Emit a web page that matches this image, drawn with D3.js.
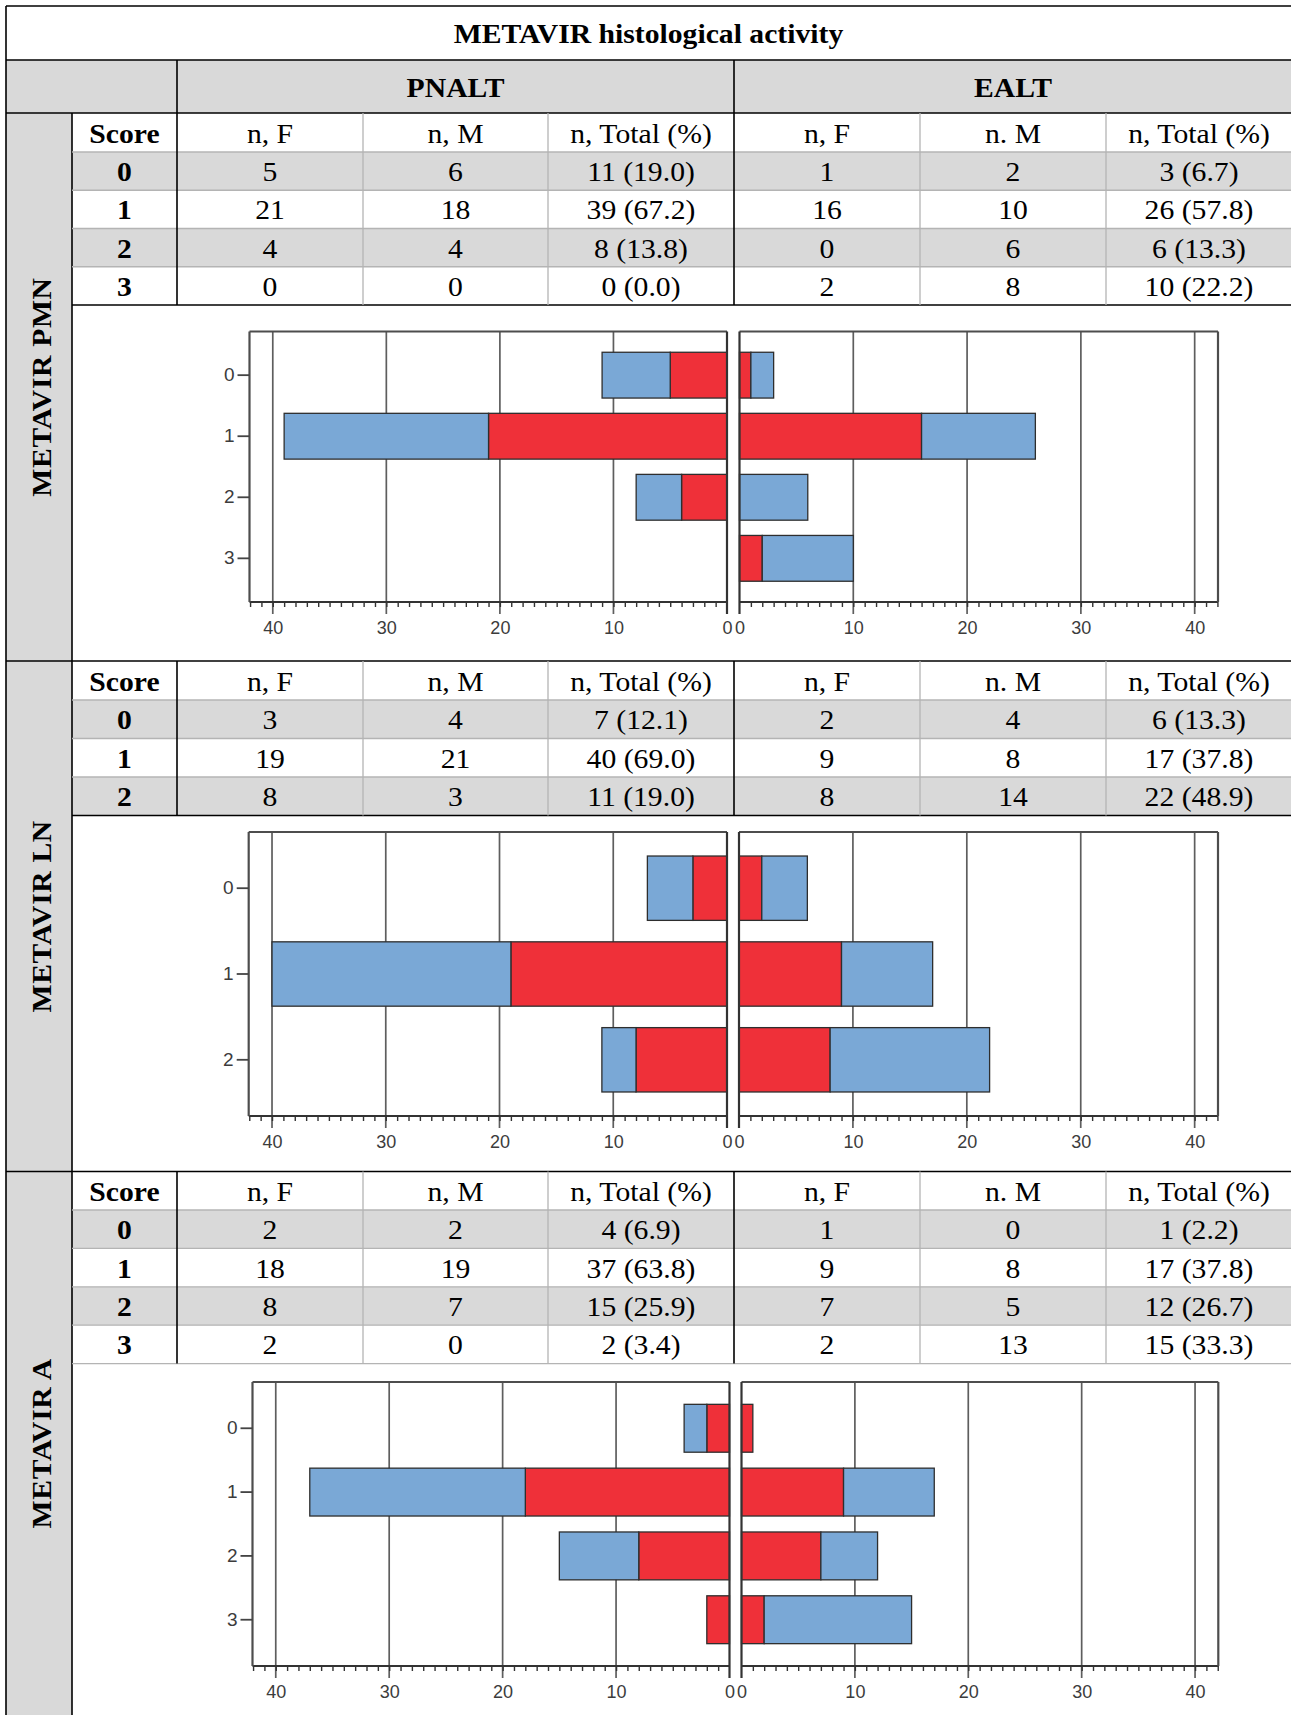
<!DOCTYPE html>
<html>
<head>
<meta charset="utf-8">
<script src="https://d3js.org/d3.v7.min.js"></script>
<style>
  body { margin: 0; background: #fff; }
  svg { display: block; }
</style>
</head>
<body>
<svg id="metavir_chart"></svg>
<script>
// ---- data ----
const title = "METAVIR histological activity";
const groups = ["PNALT", "EALT"];
const colHeaders = ["Score", "n, F", "n, M", "n, Total (%)", "n, F", "n. M", "n, Total (%)"];
const sectionNames = ["METAVIR PMN", "METAVIR LN", "METAVIR A"];

const pmnScores = ["0", "1", "2", "3"];
const pmnPnaltF = [5, 21, 4, 0];
const pmnPnaltM = [6, 18, 4, 0];
const pmnPnaltTotal = ["11 (19.0)", "39 (67.2)", "8 (13.8)", "0 (0.0)"];
const pmnEaltF = [1, 16, 0, 2];
const pmnEaltM = [2, 10, 6, 8];
const pmnEaltTotal = ["3 (6.7)", "26 (57.8)", "6 (13.3)", "10 (22.2)"];

const lnScores = ["0", "1", "2"];
const lnPnaltF = [3, 19, 8];
const lnPnaltM = [4, 21, 3];
const lnPnaltTotal = ["7 (12.1)", "40 (69.0)", "11 (19.0)"];
const lnEaltF = [2, 9, 8];
const lnEaltM = [4, 8, 14];
const lnEaltTotal = ["6 (13.3)", "17 (37.8)", "22 (48.9)"];

const aScores = ["0", "1", "2", "3"];
const aPnaltF = [2, 18, 8, 2];
const aPnaltM = [2, 19, 7, 0];
const aPnaltTotal = ["4 (6.9)", "37 (63.8)", "15 (25.9)", "2 (3.4)"];
const aEaltF = [1, 9, 7, 2];
const aEaltM = [0, 8, 5, 13];
const aEaltTotal = ["1 (2.2)", "17 (37.8)", "12 (26.7)", "15 (33.3)"];

const axisTicks = [0, 10, 20, 30, 40];
const axisMax = 42.05;

// ---- layout ----
const W = 1291, H = 1715;
const tblLeft = 6, tblTop = 6, labelColR = 72;
const colEdges = [72, 177, 363, 548, 734, 920, 1106, 1292];
const titleBottom = 60, groupBottom = 113;
const grey = "#d9d9d9", thinGrey = "#b4b4b4";
const red = "#ef3039", blue = "#7aa8d6";
const serif = "'Liberation Serif', 'Times New Roman', serif";
const sans = "'Liberation Sans', Arial, sans-serif";
const stretch = 1.06; // table font in the picture is slightly wide

const sections = [
  { name: sectionNames[0], scores: pmnScores, pf: pmnPnaltF, pm: pmnPnaltM, pt: pmnPnaltTotal,
    ef: pmnEaltF, em: pmnEaltM, et: pmnEaltTotal,
    y0: 113, y1: 661, headBottom: 152, rowH: 38.25, chartTop: 331.5, axisY: 602,
    frameL: 249.5, zeroL: 727, zeroR: 739.5, frameR: 1218, po: 0.34, lastBlack: true },
  { name: sectionNames[1], scores: lnScores, pf: lnPnaltF, pm: lnPnaltM, pt: lnPnaltTotal,
    ef: lnEaltF, em: lnEaltM, et: lnEaltTotal,
    y0: 661, y1: 1171.5, headBottom: 700, rowH: 38.5, chartTop: 832, axisY: 1116,
    frameL: 248.7, zeroL: 727, zeroR: 739, frameR: 1218, po: 0.28, lastBlack: true },
  { name: sectionNames[2], scores: aScores, pf: aPnaltF, pm: aPnaltM, pt: aPnaltTotal,
    ef: aEaltF, em: aEaltM, et: aEaltTotal,
    y0: 1171.5, y1: 1715, headBottom: 1210, rowH: 38.4, chartTop: 1382, axisY: 1666,
    frameL: 252.5, zeroL: 729.5, zeroR: 741.5, frameR: 1218.3, po: 0.35, lastBlack: false }
];

const svg = d3.select("#metavir_chart").attr("width", W).attr("height", H);
const bg = svg.append("g"), lines = svg.append("g"), texts = svg.append("g"), charts = svg.append("g");

function line(x1, y1, x2, y2, color, w) {
  lines.append("line").attr("x1", x1).attr("y1", y1).attr("x2", x2).attr("y2", y2)
    .attr("stroke", color).attr("stroke-width", w);
}
function cellText(x, y, str, bold) {
  texts.append("text").attr("transform", `translate(${x},${y}) scale(${stretch},1)`)
    .attr("text-anchor", "middle")
    .style("font-family", serif).style("font-size", "28px")
    .style("font-weight", bold ? "bold" : "normal").attr("fill", "#000").text(str);
}

// backgrounds
bg.append("rect").attr("x", tblLeft).attr("y", titleBottom).attr("width", W - tblLeft).attr("height", groupBottom - titleBottom).attr("fill", grey);
bg.append("rect").attr("x", tblLeft).attr("y", groupBottom).attr("width", labelColR - tblLeft).attr("height", H - groupBottom).attr("fill", grey);

// title + group header
cellText((tblLeft + W) / 2, 43, title, true);
groups.forEach((gname, i) => {
  cellText((colEdges[1 + i * 3] + colEdges[4 + i * 3]) / 2, 97, gname, true);
});
line(tblLeft, tblTop, W, tblTop, "#000", 1.6);
line(tblLeft, tblTop, tblLeft, H, "#000", 1.6);
line(tblLeft, titleBottom, W, titleBottom, "#000", 1.6);
line(colEdges[1], titleBottom, colEdges[1], groupBottom, "#000", 1.6);
line(colEdges[4], titleBottom, colEdges[4], groupBottom, "#000", 1.6);
line(labelColR, groupBottom, labelColR, H, "#000", 1.6);

const colMid = d3.range(7).map(i => (colEdges[i] + colEdges[i + 1]) / 2);

sections.forEach(sec => {
  const n = sec.scores.length;
  const rowTop = i => sec.headBottom + i * sec.rowH;
  const tableBottom = rowTop(n);

  // grey striped rows
  sec.scores.forEach((s, i) => {
    if (i % 2 === 0) {
      bg.append("rect").attr("x", labelColR).attr("y", rowTop(i)).attr("width", W - labelColR)
        .attr("height", sec.rowH).attr("fill", grey);
    }
  });

  // rotated section label
  texts.append("text")
    .attr("transform", `translate(51,${(sec.y0 + sec.y1) / 2}) rotate(-90) scale(${stretch},1)`)
    .attr("text-anchor", "middle")
    .style("font-family", serif).style("font-size", "28px").style("font-weight", "bold")
    .style("letter-spacing", "0.6px").text(sec.name);

  // header row
  colHeaders.forEach((h, j) => cellText(colMid[j], sec.headBottom - 9, h, j === 0));

  // data rows
  sec.scores.forEach((s, i) => {
    const by = rowTop(i) + sec.rowH / 2 + 10;
    const vals = [s, sec.pf[i], sec.pm[i], sec.pt[i], sec.ef[i], sec.em[i], sec.et[i]];
    vals.forEach((v, j) => cellText(colMid[j], by, v, j === 0));
  });

  // table lines
  line(tblLeft, sec.y0, W, sec.y0, "#000", 1.6);
  d3.range(n).forEach(i => line(labelColR, rowTop(i), W, rowTop(i), thinGrey, 1.3));
  line(labelColR, tableBottom, W, tableBottom, sec.lastBlack ? "#000" : thinGrey, sec.lastBlack ? 1.6 : 1.3);
  [2, 3, 5, 6].forEach(k => line(colEdges[k], sec.y0, colEdges[k], tableBottom, thinGrey, 1.3));
  [1, 4].forEach(k => line(colEdges[k], sec.y0, colEdges[k], tableBottom, "#000", 1.6));

  // ---- chart ----
  const y = d3.scaleBand().domain(sec.scores).range([sec.chartTop, sec.axisY])
    .paddingInner(0.25).paddingOuter(sec.po);
  const xL = d3.scaleLinear().domain([0, axisMax]).range([sec.zeroL, sec.frameL]);
  const xR = d3.scaleLinear().domain([0, axisMax]).range([sec.zeroR, sec.frameR]);

  const panels = [
    { x: xL, f: sec.pf, m: sec.pm, edge: sec.frameL, zero: sec.zeroL },
    { x: xR, f: sec.ef, m: sec.em, edge: sec.frameR, zero: sec.zeroR }
  ];

  panels.forEach((p, pi) => {
    const g = charts.append("g");
    // gridlines, extending down as major ticks
    g.selectAll("line.grid").data(axisTicks.slice(1)).enter().append("line")
      .attr("x1", d => p.x(d)).attr("x2", d => p.x(d))
      .attr("y1", sec.chartTop).attr("y2", sec.axisY + 12)
      .attr("stroke", "#5e5e5e").attr("stroke-width", 1.7);

    // minor ticks
    g.append("g").attr("transform", `translate(0,${sec.axisY})`)
      .call(d3.axisBottom(p.x).tickValues(d3.range(1, 43)).tickSize(5).tickFormat(""))
      .call(a => a.select(".domain").remove())
      .call(a => a.selectAll("line").attr("stroke", "#333").attr("stroke-width", 1.4));

    // major tick labels
    g.append("g").attr("transform", `translate(0,${sec.axisY})`)
      .call(d3.axisBottom(p.x).tickValues(axisTicks).tickSize(0).tickPadding(19).tickFormat(d3.format("d")))
      .call(a => a.select(".domain").remove())
      .call(a => a.selectAll("text").style("font-family", sans).style("font-size", "18px").attr("fill", "#3c3c3c"));

    // stacked bars
    const rows = sec.scores.map((s, i) => ({ score: s, F: p.f[i], M: p.m[i] }));
    const stacked = d3.stack().keys(["F", "M"])(rows);
    g.selectAll("g.layer").data(stacked).enter().append("g")
      .attr("fill", d => d.key === "F" ? red : blue)
      .selectAll("rect").data(d => d.filter(v => v[1] > v[0])).enter().append("rect")
      .attr("x", d => Math.min(p.x(d[0]), p.x(d[1])))
      .attr("width", d => Math.abs(p.x(d[1]) - p.x(d[0])))
      .attr("y", d => y(d.data.score))
      .attr("height", y.bandwidth())
      .attr("stroke", "#2e2e2e").attr("stroke-width", 1.3);

    // frame
    const fx0 = Math.min(p.edge, p.zero), fx1 = Math.max(p.edge, p.zero);
    g.append("line").attr("x1", fx0).attr("x2", fx1).attr("y1", sec.chartTop).attr("y2", sec.chartTop)
      .attr("stroke", "#4d4d4d").attr("stroke-width", 2.2);
    g.append("line").attr("x1", fx0).attr("x2", fx1).attr("y1", sec.axisY).attr("y2", sec.axisY)
      .attr("stroke", "#333").attr("stroke-width", 2.2);
    g.append("line").attr("x1", p.edge).attr("x2", p.edge).attr("y1", sec.chartTop).attr("y2", sec.axisY)
      .attr("stroke", "#4d4d4d").attr("stroke-width", 2.2);
    g.append("line").attr("x1", p.zero).attr("x2", p.zero).attr("y1", sec.chartTop).attr("y2", sec.axisY + 12)
      .attr("stroke", "#333").attr("stroke-width", 2.2);

    // score axis on the left panel only
    if (pi === 0) {
      g.append("g").attr("transform", `translate(${sec.frameL},0)`)
        .call(d3.axisLeft(y).tickSize(12).tickPadding(3))
        .call(a => a.select(".domain").remove())
        .call(a => a.selectAll("line").attr("stroke", "#444").attr("stroke-width", 1.8))
        .call(a => a.selectAll("text").style("font-family", sans).style("font-size", "19px").attr("fill", "#3c3c3c"));
    }
  });
});
</script>
</body>
</html>
